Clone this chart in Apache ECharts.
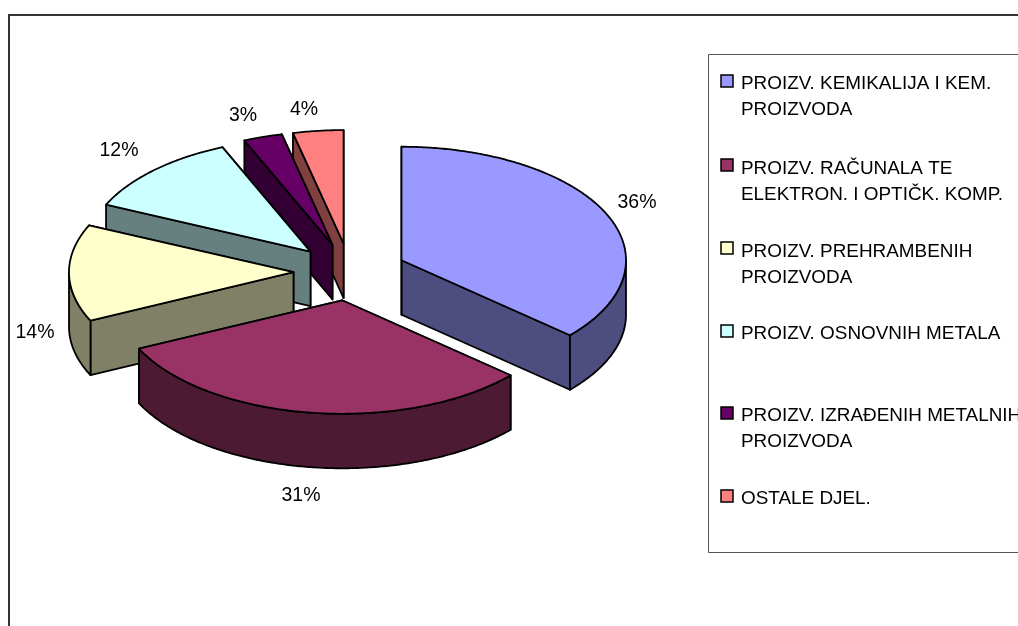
<!DOCTYPE html>
<html>
<head>
<meta charset="utf-8">
<style>html,body{margin:0;padding:0;background:#fff}#c{width:1018px;height:626px}</style>
<script src="https://cdn.jsdelivr.net/npm/echarts@6/dist/echarts.min.js"></script>
</head>
<body>
<div id="c"></div>
<script>
// ---- data ----
const categories = [
  "PROIZV. KEMIKALIJA I KEM.\nPROIZVODA",
  "PROIZV. RAČUNALA TE\nELEKTRON. I OPTIČK. KOMP.",
  "PROIZV. PREHRAMBENIH\nPROIZVODA",
  "PROIZV. OSNOVNIH METALA",
  "PROIZV. IZRAĐENIH METALNIH\nPROIZVODA",
  "OSTALE DJEL."
];
const shares = [36.49, 31.49, 13.8, 11.8, 2.8, 3.62];
const percentLabels = ["36%", "31%", "14%", "12%", "3%", "4%"];

// ---- styles / layout ----
const topColors  = ["#9999FF", "#993366", "#FFFFCC", "#CCFFFF", "#660066", "#FF8080"];
const sideColors = ["#4D4D80", "#4D1A33", "#808066", "#668080", "#330033", "#804040"];
const FONT = '"Liberation Sans", Arial, sans-serif';
const pie = {cx: 350, cy: 272, rx: 224.5, ry: 113.5, depth: 54.5, explode: 56.5};

const total = shares.reduce((a, b) => a + b, 0);
const toAngle = v => v / total * 2 * Math.PI;
const startAngles = shares.map((_, i) => toAngle(shares.slice(0, i).reduce((a, b) => a + b, 0)));

function sliceGeometry(idx, value) {
  const a0 = startAngles[idx];
  const a1 = a0 + toAngle(value);
  const mid = (a0 + a1) / 2;
  const ax = pie.cx + pie.explode * Math.sin(mid);
  const ay = pie.cy - pie.explode * (pie.ry / pie.rx) * Math.cos(mid);
  const at = (t, dy) => [ax + pie.rx * Math.sin(t), ay - pie.ry * Math.cos(t) + (dy || 0)];
  return {a0, a1, mid, ax, ay, at};
}

function arcPoints(at, a0, a1, dy) {
  const n = Math.max(2, Math.ceil((a1 - a0) / 0.01));
  const pts = [];
  for (let i = 0; i <= n; i++) pts.push(at(a0 + (a1 - a0) * i / n, dy));
  return pts;
}

function renderSlice(params, api) {
  const idx = params.dataIndex;
  const g = sliceGeometry(idx, api.value(0));
  const d = pie.depth;
  const base = (shares.length - idx) * 10;
  const stroke = {stroke: '#000', lineWidth: 1.8, lineJoin: 'round'};
  const poly = (points, fill, z) => ({
    type: 'polygon', z2: base + z, shape: {points},
    style: Object.assign({fill}, stroke)
  });
  const apex = [g.ax, g.ay], apexLow = [g.ax, g.ay + d];
  const children = [];
  // cut faces
  children.push(poly([apex, g.at(g.a1), g.at(g.a1, d), apexLow], sideColors[idx], 0));
  children.push(poly([apex, g.at(g.a0), g.at(g.a0, d), apexLow], sideColors[idx], 1));
  // outer wall, front half only
  const w0 = Math.max(g.a0, Math.PI / 2), w1 = Math.min(g.a1, Math.PI * 1.5);
  if (w1 > w0) {
    const topEdge = arcPoints(g.at, w0, w1, 0);
    const lowEdge = arcPoints(g.at, w0, w1, d).reverse();
    children.push(poly(topEdge.concat(lowEdge), sideColors[idx], 2));
  }
  // top face
  children.push(poly([apex].concat(arcPoints(g.at, g.a0, g.a1, 0)), topColors[idx], 3));
  return {type: 'group', children};
}

// ---- percent labels ----
const labelPos = [[637, 203], [301, 496], [35, 333], [119, 151], [243, 116], [304, 110]];
const labelGraphics = percentLabels.map((t, i) => ({
  type: 'text', x: labelPos[i][0], y: labelPos[i][1], z: 10,
  style: {text: t, font: '19.5px ' + FONT, fill: '#000', textAlign: 'center', textVerticalAlign: 'middle'}
}));

// ---- legend ----
const legendTop = [75, 159, 242, 325, 407, 490];
const legendTextTop = [71, 156, 239, 321, 403, 486];
const legendGraphics = [];
categories.forEach((name, i) => {
  legendGraphics.push({
    type: 'rect', z: 10,
    shape: {x: 721, y: legendTop[i], width: 12, height: 12},
    style: {fill: topColors[i], stroke: '#000', lineWidth: 1.5}
  });
  legendGraphics.push({
    type: 'text', z: 10, x: 741, y: legendTextTop[i],
    style: {text: name, font: '18.9px ' + FONT, lineHeight: 26, fill: '#000', textAlign: 'left', textVerticalAlign: 'top'}
  });
});

const chart = echarts.init(document.getElementById('c'), null, {renderer: 'canvas'});
chart.setOption({
  animation: false,
  backgroundColor: '#fff',
  graphic: [
    {type: 'rect', z: -1, shape: {x: 9, y: 15, width: 1100, height: 700},
     style: {fill: 'none', stroke: '#333', lineWidth: 2}},
    {type: 'rect', z: 9, shape: {x: 708.5, y: 54.5, width: 400, height: 498},
     style: {fill: '#fff', stroke: '#555', lineWidth: 1}}
  ].concat(labelGraphics, legendGraphics),
  series: [{
    type: 'custom',
    coordinateSystem: 'none',
    clip: false,
    silent: true,
    data: shares.map((v, i) => ({name: categories[i], value: [v]})),
    renderItem: renderSlice
  }]
});
</script>
</body>
</html>
